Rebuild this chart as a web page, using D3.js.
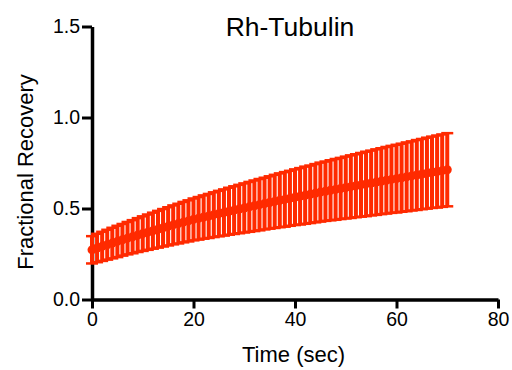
<!DOCTYPE html>
<html>
<head>
<meta charset="utf-8">
<script src="https://cdn.jsdelivr.net/npm/d3@7"></script>
<style>
  body { margin: 0; background: #fff; }
  svg { display: block; font-family: "Liberation Sans", Arial, sans-serif; }
</style>
</head>
<body>
<svg id="chart" width="512" height="370"></svg>
<script>
// time points (sec)
const times = [0, 1, 2, 3, 4, 5, 6, 7, 8, 9, 10, 11, 12, 13, 14, 15, 16, 17, 18, 19,
  20, 21, 22, 23, 24, 25, 26, 27, 28, 29, 30, 31, 32, 33, 34, 35, 36, 37, 38, 39,
  40, 41, 42, 43, 44, 45, 46, 47, 48, 49, 50, 51, 52, 53, 54, 55, 56, 57, 58, 59,
  60, 61, 62, 63, 64, 65, 66, 67, 68, 69, 70];

// mean fractional recovery
const meanRecovery = [0.273, 0.283, 0.292, 0.301, 0.310, 0.319, 0.328, 0.337, 0.345, 0.354,
  0.362, 0.370, 0.378, 0.386, 0.394, 0.402, 0.410, 0.417, 0.425, 0.432,
  0.440, 0.446, 0.453, 0.459, 0.466, 0.472, 0.478, 0.485, 0.491, 0.497,
  0.503, 0.509, 0.515, 0.521, 0.527, 0.533, 0.539, 0.545, 0.550, 0.556,
  0.562, 0.567, 0.573, 0.578, 0.584, 0.590, 0.595, 0.600, 0.605, 0.610,
  0.615, 0.620, 0.625, 0.630, 0.635, 0.640, 0.645, 0.650, 0.655, 0.660,
  0.664, 0.669, 0.674, 0.679, 0.684, 0.689, 0.694, 0.699, 0.703, 0.708, 0.713];

// standard deviation
const sdRecovery = [0.075, 0.078, 0.080, 0.082, 0.084, 0.086, 0.087, 0.089, 0.091, 0.093,
  0.095, 0.097, 0.099, 0.101, 0.103, 0.105, 0.107, 0.109, 0.111, 0.113,
  0.115, 0.117, 0.119, 0.121, 0.123, 0.125, 0.127, 0.129, 0.131, 0.133,
  0.135, 0.137, 0.139, 0.141, 0.142, 0.144, 0.146, 0.148, 0.150, 0.151,
  0.153, 0.155, 0.157, 0.158, 0.160, 0.162, 0.163, 0.165, 0.167, 0.168,
  0.170, 0.172, 0.173, 0.175, 0.177, 0.178, 0.180, 0.181, 0.183, 0.184,
  0.186, 0.187, 0.189, 0.190, 0.192, 0.193, 0.195, 0.196, 0.198, 0.199, 0.201];

const xTicks = [0, 20, 40, 60, 80];
const yTicks = [0, 0.5, 1.0, 1.5];

const color = "#ff2a00";

const points = times.map((t, i) => ({ t: t, m: meanRecovery[i], sd: sdRecovery[i] }));

const svg = d3.select("#chart");

const x = d3.scaleLinear().domain([0, 80]).range([92, 498]);
const y = d3.scaleLinear().domain([0, 1.5]).range([299.5, 26.5]);

// axes
const xAxis = svg.append("g")
  .attr("transform", `translate(0,${y(0)})`)
  .call(d3.axisBottom(x).tickValues(xTicks).tickSize(9).tickSizeOuter(0).tickPadding(4));
const yAxis = svg.append("g")
  .attr("transform", `translate(${x(0)},0)`)
  .call(d3.axisLeft(y).tickValues(yTicks).tickSize(10).tickSizeOuter(0).tickPadding(2)
    .tickFormat(d3.format(".1f")));

[xAxis, yAxis].forEach(a => {
  a.select(".domain").attr("stroke", "#000").attr("stroke-width", 3.5);
  a.selectAll(".tick line").attr("stroke", "#000").attr("stroke-width", 3);
  a.selectAll(".tick text")
    .attr("fill", "#000")
    .attr("font-size", 19.5)
    .attr("font-family", "Liberation Sans, Arial, sans-serif");
});

// error bars
const bars = svg.append("g")
  .attr("stroke", color);

bars.selectAll("line.bar")
  .data(points)
  .join("line")
  .attr("class", "bar")
  .attr("x1", d => x(d.t))
  .attr("x2", d => x(d.t))
  .attr("y1", d => y(d.m - d.sd))
  .attr("y2", d => y(d.m + d.sd))
  .attr("stroke-width", 4);

bars.selectAll("line.capTop")
  .data(points)
  .join("line")
  .attr("class", "capTop")
  .attr("x1", d => x(d.t) - 6)
  .attr("x2", d => x(d.t) + 6)
  .attr("y1", d => y(d.m + d.sd))
  .attr("y2", d => y(d.m + d.sd))
  .attr("stroke-width", 2.5);

bars.selectAll("line.capBot")
  .data(points)
  .join("line")
  .attr("class", "capBot")
  .attr("x1", d => x(d.t) - 6)
  .attr("x2", d => x(d.t) + 6)
  .attr("y1", d => y(d.m - d.sd))
  .attr("y2", d => y(d.m - d.sd))
  .attr("stroke-width", 2.5);

// mean points
svg.append("g")
  .selectAll("circle")
  .data(points)
  .join("circle")
  .attr("cx", d => x(d.t))
  .attr("cy", d => y(d.m))
  .attr("r", 4.5)
  .attr("fill", color);

// labels
svg.append("text")
  .attr("x", 290)
  .attr("y", 36)
  .attr("text-anchor", "middle")
  .attr("font-size", 26.5)
  .text("Rh-Tubulin");

svg.append("text")
  .attr("x", 293.5)
  .attr("y", 362)
  .attr("text-anchor", "middle")
  .attr("font-size", 22)
  .text("Time (sec)");

svg.append("text")
  .attr("transform", "translate(33,172) rotate(-90)")
  .attr("text-anchor", "middle")
  .attr("font-size", 22)
  .text("Fractional Recovery");
</script>
</body>
</html>
